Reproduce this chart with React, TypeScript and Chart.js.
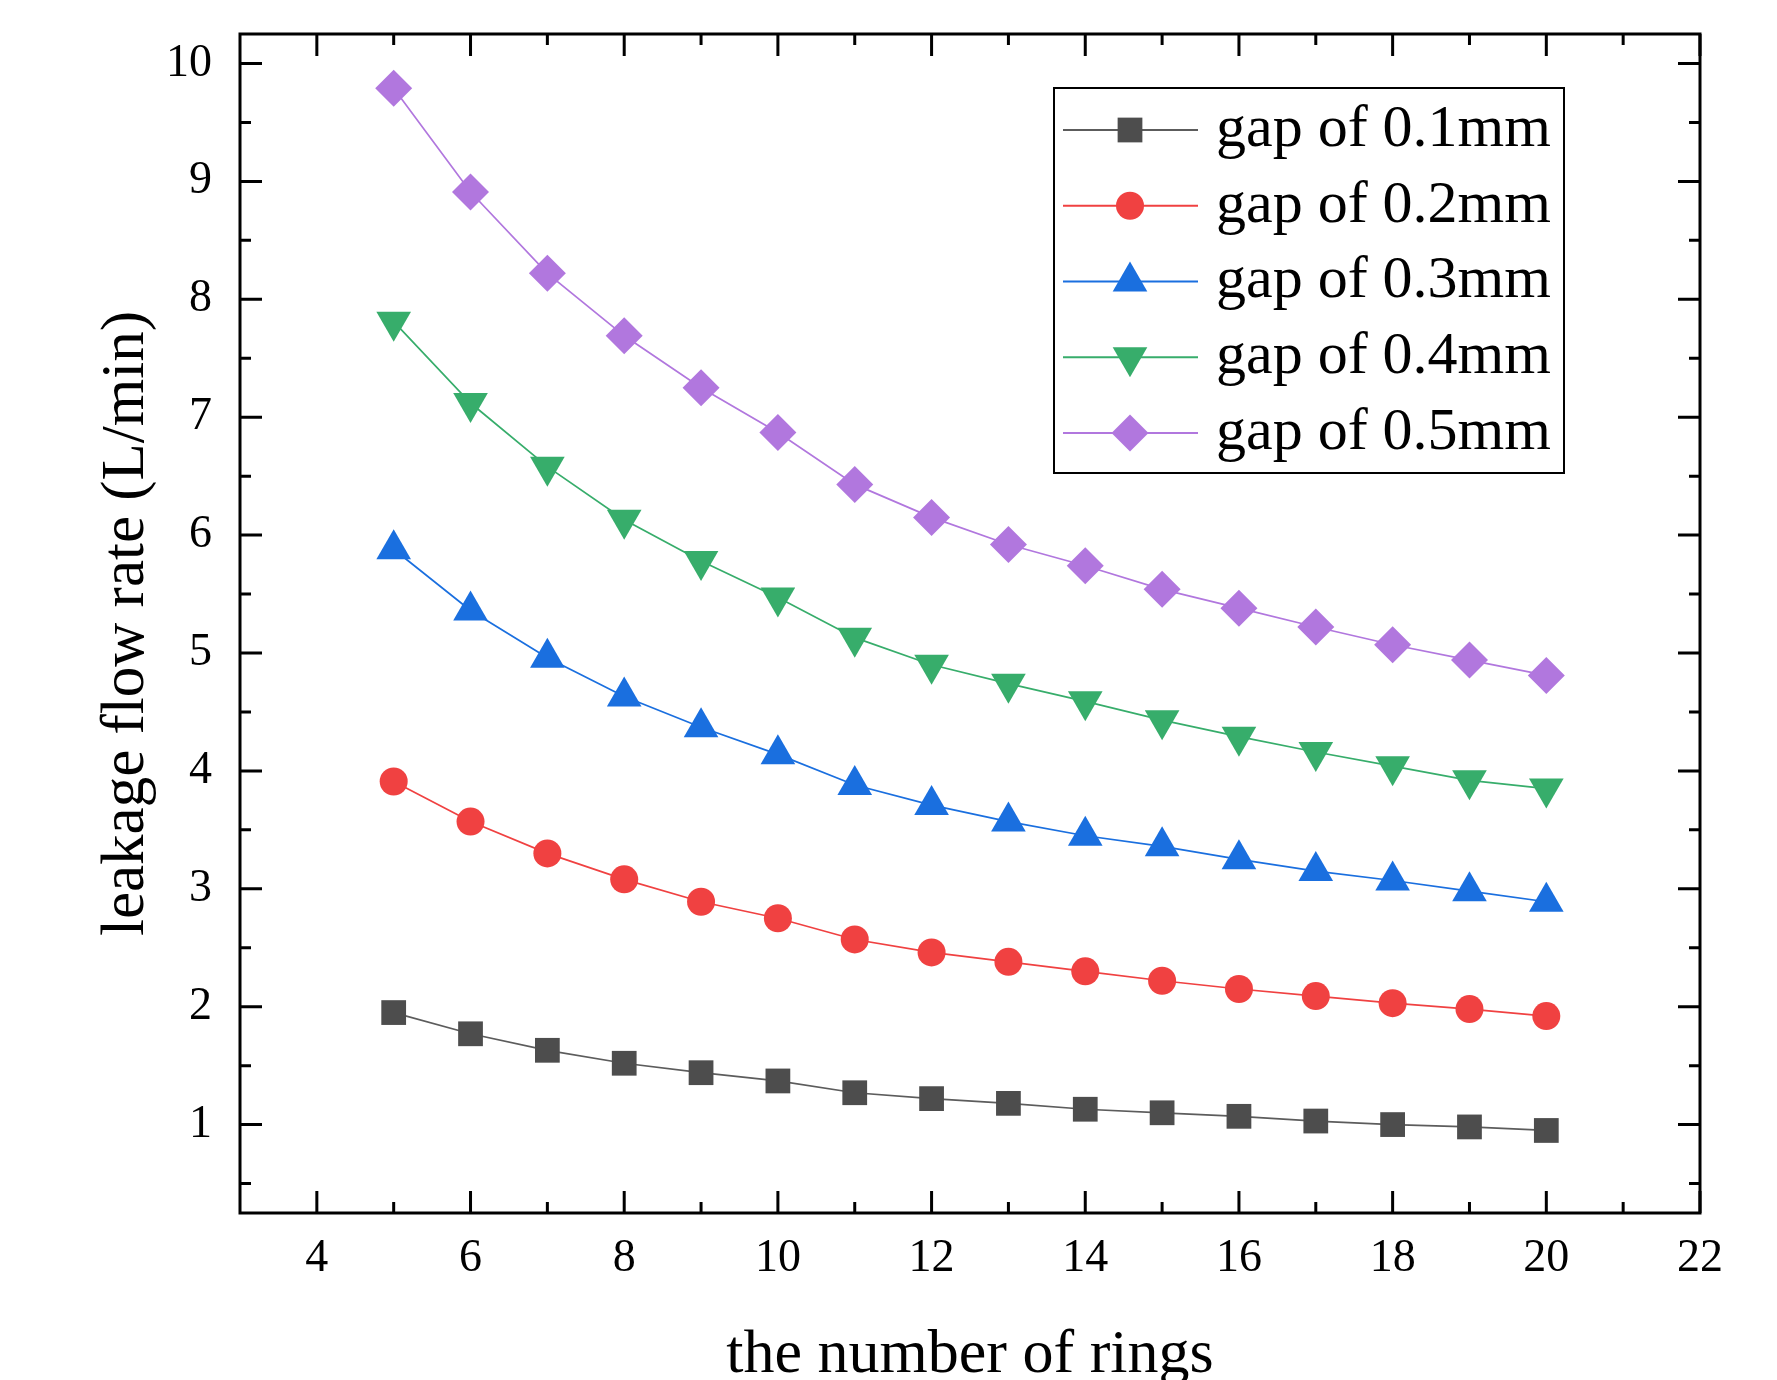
import React, { useEffect, useRef } from 'react';
import { Chart, registerables } from 'chart.js';
import { drawPoint } from 'chart.js/helpers';

Chart.register(...registerables);

const FONT = '"Liberation Serif", "Times New Roman", serif';

const rings = [5, 6, 7, 8, 9, 10, 11, 12, 13, 14, 15, 16, 17, 18, 19, 20];
const gap01 = [1.95, 1.77, 1.63, 1.52, 1.44, 1.37, 1.27, 1.22, 1.18, 1.13, 1.1, 1.07, 1.03, 1.0, 0.98, 0.95];
const gap02 = [3.91, 3.57, 3.3, 3.08, 2.89, 2.75, 2.57, 2.46, 2.38, 2.3, 2.22, 2.15, 2.09, 2.03, 1.98, 1.92];
const gap03 = [5.88, 5.36, 4.96, 4.63, 4.37, 4.14, 3.88, 3.71, 3.57, 3.45, 3.36, 3.25, 3.15, 3.07, 2.98, 2.89];
const gap04 = [7.81, 7.12, 6.58, 6.13, 5.78, 5.47, 5.13, 4.9, 4.74, 4.59, 4.43, 4.29, 4.16, 4.04, 3.92, 3.85];
const gap05 = [9.79, 8.91, 8.22, 7.69, 7.25, 6.87, 6.43, 6.15, 5.92, 5.74, 5.54, 5.38, 5.22, 5.07, 4.94, 4.81];

const seriesLabels = ['gap of 0.1mm', 'gap of 0.2mm', 'gap of 0.3mm', 'gap of 0.4mm', 'gap of 0.5mm'];
const xTickValues = [4, 6, 8, 10, 12, 14, 16, 18, 20, 22];
const xMinorValues = [5, 7, 9, 11, 13, 15, 17, 19, 21];
const yTickValues = [1, 2, 3, 4, 5, 6, 7, 8, 9, 10];
const yMinorValues = [0.5, 1.5, 2.5, 3.5, 4.5, 5.5, 6.5, 7.5, 8.5, 9.5];

const xTitle = 'the number of rings';
const yTitle = 'leakage flow rate (L/min)';

const toPoints = (vals: number[]) => rings.map((r, i) => ({ x: r, y: vals[i] }));

const frameTicksPlugin = {
  id: 'frameTicks',
  afterDraw(chart: any) {
    const { ctx, chartArea: ca, scales } = chart;
    const x = scales.x;
    const y = scales.y;
    ctx.save();
    ctx.strokeStyle = '#000';
    ctx.lineWidth = 3;
    ctx.lineCap = 'butt';
    ctx.beginPath();
    const major = 22;
    const minor = 11;
    const tickX = (v: number, len: number) => {
      const px = x.getPixelForValue(v);
      ctx.moveTo(px, ca.bottom);
      ctx.lineTo(px, ca.bottom - len);
      ctx.moveTo(px, ca.top);
      ctx.lineTo(px, ca.top + len);
    };
    const tickY = (v: number, len: number) => {
      const py = y.getPixelForValue(v);
      ctx.moveTo(ca.left, py);
      ctx.lineTo(ca.left + len, py);
      ctx.moveTo(ca.right, py);
      ctx.lineTo(ca.right - len, py);
    };
    xTickValues.forEach((v) => tickX(v, major));
    xMinorValues.forEach((v) => tickX(v, minor));
    yTickValues.forEach((v) => tickY(v, major));
    yMinorValues.forEach((v) => tickY(v, minor));
    ctx.stroke();
    ctx.strokeRect(ca.left, ca.top, ca.right - ca.left, ca.bottom - ca.top);
    ctx.restore();
  },
};

const legendPlugin = {
  id: 'originLegend',
  afterDraw(chart: any) {
    const { ctx, chartArea: ca } = chart;
    const boxL = ca.left + 814;
    const boxT = ca.top + 54;
    const boxW = 510;
    const boxH = 385;
    ctx.save();
    ctx.strokeStyle = '#000';
    ctx.lineWidth = 2;
    ctx.strokeRect(boxL, boxT, boxW, boxH);
    chart.data.datasets.forEach((ds: any, i: number) => {
      const yy = boxT + 42 + i * 75.75;
      ctx.strokeStyle = ds.borderColor;
      ctx.lineWidth = 2;
      ctx.beginPath();
      ctx.moveTo(boxL + 9, yy);
      ctx.lineTo(boxL + 144, yy);
      ctx.stroke();
      ctx.fillStyle = ds.backgroundColor;
      drawPoint(
        ctx,
        { pointStyle: ds.pointStyle, rotation: ds.pointRotation || 0, radius: ds.pointRadius, borderWidth: 0 } as any,
        boxL + 76,
        yy
      );
      ctx.fillStyle = '#000';
      ctx.font = `60px ${FONT}`;
      ctx.textAlign = 'left';
      ctx.textBaseline = 'middle';
      ctx.fillText(ds.label, boxL + 162, yy);
    });
    ctx.restore();
  },
};

export default function App() {
  const canvasRef = useRef<HTMLCanvasElement>(null);

  useEffect(() => {
    const canvas = canvasRef.current;
    if (!canvas) return;
    const mk = (label: string, vals: number[], fill: string, line: string, style: string, radius: number, rotation = 0) => ({
      label,
      data: toPoints(vals),
      borderColor: line,
      backgroundColor: fill,
      pointBackgroundColor: fill,
      pointBorderColor: fill,
      pointBorderWidth: 0,
      borderWidth: 1.7,
      pointStyle: style,
      pointRadius: radius,
      pointRotation: rotation,
      tension: 0,
      fill: false,
    });
    const chart = new Chart(canvas, {
      type: 'line',
      data: {
        datasets: [
          mk(seriesLabels[0], gap01, '#4d4d4d', '#5c5c5c', 'rect', 17.5),
          mk(seriesLabels[1], gap02, '#f04141', '#f04141', 'circle', 14),
          mk(seriesLabels[2], gap03, '#1a6fdf', '#1a6fdf', 'triangle', 20),
          mk(seriesLabels[3], gap04, '#37ad6b', '#37ad6b', 'triangle', 20, 180),
          mk(seriesLabels[4], gap05, '#b177de', '#b177de', 'rectRot', 18.5),
        ] as any,
      },
      options: {
        responsive: false,
        animation: false,
        devicePixelRatio: 1,
        layout: { padding: { top: 34, right: 77, left: 0, bottom: 0 } },
        plugins: {
          legend: { display: false },
          tooltip: { enabled: false },
        },
        scales: {
          x: {
            type: 'linear',
            min: 3,
            max: 22,
            afterBuildTicks: (s: any) => {
              s.ticks = xTickValues.map((v) => ({ value: v }));
            },
            afterFit: (s: any) => {
              s.height = 167;
              s.paddingLeft = 0;
              s.paddingRight = 0;
              s.paddingTop = 0;
              s.paddingBottom = 0;
            },
            grid: { display: false, drawTicks: false },
            border: { display: false },
            ticks: {
              color: '#000',
              font: { family: FONT, size: 46, lineHeight: 1 },
              padding: 23,
              maxRotation: 0,
              autoSkip: false,
              callback: (v: any) => String(v),
            },
            title: {
              display: true,
              text: xTitle,
              color: '#000',
              font: { family: FONT, size: 62, lineHeight: 1 },
              padding: { top: 0, bottom: -7 },
            },
          },
          y: {
            type: 'linear',
            min: 0.25,
            max: 10.25,
            afterBuildTicks: (s: any) => {
              s.ticks = yTickValues.map((v) => ({ value: v }));
            },
            afterFit: (s: any) => {
              s.width = 240;
              s.paddingLeft = 0;
              s.paddingRight = 0;
              s.paddingTop = 0;
              s.paddingBottom = 0;
            },
            grid: { display: false, drawTicks: false },
            border: { display: false },
            ticks: {
              color: '#000',
              font: { family: FONT, size: 46, lineHeight: 1 },
              padding: 28,
              autoSkip: false,
              callback: (v: any) => String(v),
            },
            title: {
              display: true,
              text: yTitle,
              color: '#000',
              font: { family: FONT, size: 61, lineHeight: 1 },
              padding: { top: 96, bottom: 0 },
            },
          },
        },
      } as any,
      plugins: [frameTicksPlugin, legendPlugin],
    });
    return () => chart.destroy();
  }, []);

  return (
    <div style={{ position: 'fixed', left: 0, top: 0, width: 1777, height: 1380, background: '#fff' }}>
      <canvas ref={canvasRef} width={1777} height={1380} style={{ display: 'block', width: 1777, height: 1380 }} />
    </div>
  );
}
